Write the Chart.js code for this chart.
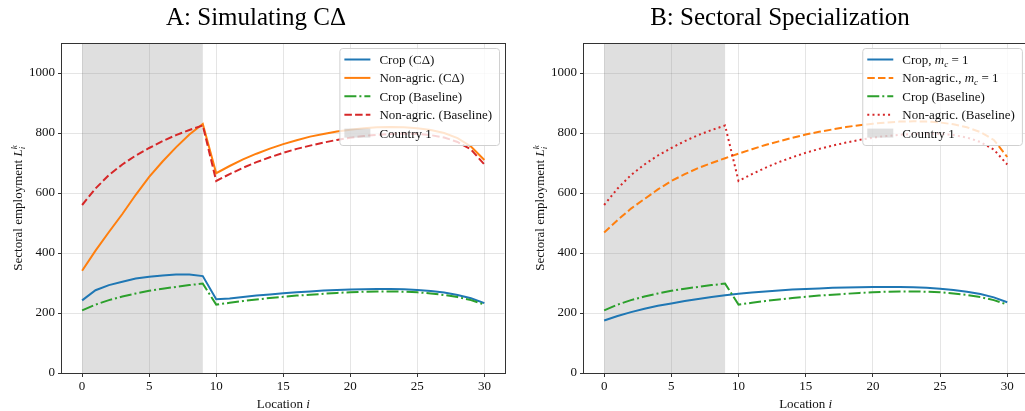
<!DOCTYPE html>
<html>
<head>
<meta charset="utf-8">
<script src="https://cdn.jsdelivr.net/npm/chart.js@4.4.0/dist/chart.umd.min.js"></script>
<style>
  html, body { margin: 0; padding: 0; background: #fff; overflow: hidden; width: 1025px; height: 411px; }
  #wrapA { position: absolute; left: 0; top: 0; }
  #wrapB { position: absolute; left: 512px; top: 0; }
</style>
</head>
<body>
<div id="wrapA"><canvas id="chartA" width="512" height="411"></canvas></div>
<div id="wrapB"><canvas id="chartB" width="520" height="411"></canvas></div>
<script>
// ---------------- Data ----------------
const locations = [0, 1, 2, 3, 4, 5, 6, 7, 8, 9, 10, 11, 12, 13, 14, 15, 16, 17, 18, 19, 20,
  21, 22, 23, 24, 25, 26, 27, 28, 29, 30];
const xTicks = [0, 5, 10, 15, 20, 25, 30];
const yTicks = [0, 200, 400, 600, 800, 1000];
const country1 = [0, 9]; // shaded span

// panel A
const cropCD = [242, 276, 293, 304, 315, 321, 325, 328, 328, 323,
  246, 248, 253, 258, 262, 266, 269, 272, 275, 277, 278, 279, 280, 280, 279, 277, 273, 268, 260, 249, 233];
const nonAgCD = [341, 408, 470, 530, 594, 654, 705, 752, 795, 830,
  666, 690, 712, 731, 748, 763, 776, 788, 797, 805, 811, 816, 819, 820, 819, 816, 810, 800, 783, 755, 710];
// baseline (same in both panels)
const cropBase = [209, 228, 243, 255, 265, 274, 281, 287, 293, 298,
  228, 234, 240, 245, 250, 254, 258, 261, 264, 267, 269, 271, 272, 272, 271, 269, 265, 260, 253, 243, 228];
const nonAgBase = [560, 615, 660, 695, 725, 750, 773, 793, 810, 825,
  640, 663, 684, 703, 719, 734, 747, 758, 768, 777, 784, 790, 794, 797, 798, 797, 793, 785, 770, 745, 695];
// panel B
const cropMc = [175, 190, 203, 214, 224, 232, 240, 247, 253, 259,
  264, 268, 272, 275, 278, 280, 282, 284, 285, 286, 287, 287, 287, 286, 284, 281, 277, 271, 263, 252, 236];
const nonAgMc = [468, 510, 548, 580, 612, 640, 663, 683, 700, 716,
  731, 746, 760, 772, 784, 795, 804, 812, 820, 826, 831, 835, 838, 839, 838, 835, 829, 819, 803, 777, 720];

const FONT = '"Liberation Serif", "DejaVu Serif", serif';
const BLUE = "#1f77b4", ORANGE = "#ff7f0e", GREEN = "#2ca02c", RED = "#d62728";
const SHADE = "rgba(128,128,128,0.25)";
const DASHED = [7.5, 3.2], DASHDOT = [12, 3, 2, 3], DOTTED = [2, 3.2];

// ---------------- tiny mathtext ($m_c$, $L_i^k$) ----------------
function richRuns(str) {
  const runs = [];
  str.split("$").forEach((seg, k) => {
    if (k % 2 === 0) { if (seg) runs.push({ t: seg, it: false, pos: 0 }); return; }
    for (let i = 0; i < seg.length; i++) {
      let c = seg[i], pos = 0;
      if (c === "_" || c === "^") { pos = c === "_" ? 1 : -1; c = seg[++i]; }
      runs.push({ t: c, it: /[a-zA-Z]/.test(c), pos });
    }
  });
  return runs;
}

function layoutRich(ctx, str, size) {
  const runs = richRuns(str);
  let cx = 0, scriptStart = 0, scriptEnd = 0, prevPos = 0;
  runs.forEach((r) => {
    const s = r.pos ? size * 0.7 : size;
    r.font = (r.it ? "italic " : "") + s + "px " + FONT;
    ctx.font = r.font;
    const w = ctx.measureText(r.t).width;
    if (r.pos && prevPos && prevPos !== r.pos) {
      r.x = scriptStart;
      cx = Math.max(scriptEnd, scriptStart + w);
    } else {
      if (r.pos) scriptStart = cx;
      r.x = cx;
      cx += w;
      scriptEnd = cx;
    }
    r.dy = r.pos === 1 ? size * 0.22 : r.pos === -1 ? -size * 0.42 : 0;
    prevPos = r.pos;
  });
  return { runs, width: cx };
}

function drawRich(ctx, str, x, y, size, align, color) {
  const lay = layoutRich(ctx, str, size);
  const x0 = align === "center" ? x - lay.width / 2 : x;
  ctx.save();
  ctx.fillStyle = color || "#111";
  ctx.textBaseline = "alphabetic";
  ctx.textAlign = "left";
  lay.runs.forEach((r) => { ctx.font = r.font; ctx.fillText(r.t, x0 + r.x, y + r.dy); });
  ctx.restore();
  return lay.width;
}

// ---------------- panel plugin ----------------
const panelPlugin = (p) => ({
  id: "panel",
  beforeDatasetsDraw(chart) {
    const { ctx, chartArea: a, scales: { x } } = chart;
    const x0 = x.getPixelForValue(country1[0]);
    const x1 = x.getPixelForValue(country1[1]);
    ctx.save();
    ctx.fillStyle = SHADE;
    ctx.fillRect(x0, a.top, x1 - x0, a.bottom - a.top);
    ctx.restore();
  },
  afterDatasetsDraw(chart) {
    const { ctx, chartArea: a } = chart;
    ctx.save();
    ctx.strokeStyle = "#333";
    ctx.lineWidth = 1;
    ctx.strokeRect(Math.round(a.left) - 0.5, Math.round(a.top) + 0.5,
      Math.round(a.right - a.left) + 1, Math.round(a.bottom - a.top));
    ctx.restore();
  },
  afterDraw(chart) {
    const { ctx, chartArea: a } = chart;
    // title
    ctx.save();
    ctx.font = "25px " + FONT;
    ctx.fillStyle = "#000";
    ctx.textAlign = "center";
    ctx.fillText(p.title, p.titleX, 25);
    ctx.restore();
    // axis labels
    drawRich(ctx, "Location $i$", (a.left + a.right) / 2, 408, 13, "center", "#111");
    ctx.save();
    ctx.translate(a.left - 44, (a.top + a.bottom) / 2);
    ctx.rotate(-Math.PI / 2);
    drawRich(ctx, "Sectoral employment $L_i^k$", 0, 4, 13, "center", "#111");
    ctx.restore();
    // legend
    const items = p.series.map((s) => ({ label: s.label, color: s.color, dash: s.dash }))
      .concat([{ label: "Country 1", patch: true }]);
    let maxW = 0;
    items.forEach((it) => { maxW = Math.max(maxW, layoutRich(ctx, it.label, 13).width); });
    const w = 40 + maxW + 7, h = 97;
    const bx = a.right - 5.5 - w, by = a.top + 5;
    ctx.save();
    ctx.beginPath();
    ctx.roundRect(bx + 0.5, by + 0.5, w, h, 3);
    ctx.fillStyle = "rgba(255,255,255,0.8)";
    ctx.fill();
    ctx.strokeStyle = "#d0d0d0";
    ctx.lineWidth = 1;
    ctx.stroke();
    items.forEach((it, i) => {
      const cy = by + 11.5 + i * 18.4;
      const hx = bx + 5;
      if (it.patch) {
        ctx.fillStyle = SHADE;
        ctx.fillRect(hx, cy - 4.5, 26, 9);
      } else {
        ctx.beginPath();
        ctx.setLineDash(it.dash || []);
        ctx.strokeStyle = it.color;
        ctx.lineWidth = 2;
        ctx.moveTo(hx, cy);
        ctx.lineTo(hx + 26, cy);
        ctx.stroke();
        ctx.setLineDash([]);
      }
      drawRich(ctx, it.label, bx + 40, cy + 4.5, 13, "left", "#111");
    });
    ctx.restore();
  },
});

// ---------------- build ----------------
function makeChart(id, p) {
  const tickFont = { family: FONT, size: 13 };
  const grid = { color: "rgba(0,0,0,0.1)", lineWidth: 1, tickColor: "#333", tickLength: 4, tickWidth: 1 };
  return new Chart(document.getElementById(id), {
    type: "line",
    data: {
      datasets: p.series.map((s, i) => ({
        label: s.label,
        data: locations.map((x, j) => ({ x, y: s.values[j] })),
        borderColor: s.color,
        borderWidth: 2,
        borderDash: s.dash || [],
        pointRadius: 0,
        tension: 0,
        fill: false,
        order: 10 - i,
      })),
    },
    options: {
      responsive: false,
      animation: false,
      layout: { padding: { left: 0, right: p.padRight, top: 43, bottom: 0 } },
      plugins: { legend: { display: false }, tooltip: { enabled: false }, title: { display: false } },
      scales: {
        x: {
          type: "linear", min: -1.5, max: 31.5,
          afterBuildTicks: (s) => { s.ticks = xTicks.map((v) => ({ value: v })); },
          afterFit: (s) => { s.height = 38; },
          grid, border: { display: false },
          ticks: { font: tickFont, color: "#111", padding: 2, maxRotation: 0, autoSkip: false, callback: (v) => String(v) },
        },
        y: {
          type: "linear", min: 0, max: 1100,
          afterBuildTicks: (s) => { s.ticks = yTicks.map((v) => ({ value: v })); },
          afterFit: (s) => { s.width = p.yWidth; },
          grid, border: { display: false },
          ticks: { font: tickFont, color: "#111", padding: 3, autoSkip: false, callback: (v) => String(v) },
        },
      },
    },
    plugins: [panelPlugin(p)],
  });
}

makeChart("chartA", {
  title: "A: Simulating C\u0394", titleX: 256, yWidth: 62, padRight: 7.5,
  series: [
    { label: "Crop (C\u0394)", values: cropCD, color: BLUE },
    { label: "Non-agric. (C\u0394)", values: nonAgCD, color: ORANGE },
    { label: "Crop (Baseline)", values: cropBase, color: GREEN, dash: DASHDOT },
    { label: "Non-agric. (Baseline)", values: nonAgBase, color: RED, dash: DASHED },
  ],
});

makeChart("chartB", {
  title: "B: Sectoral Specialization", titleX: 268, yWidth: 72, padRight: 4.6,
  series: [
    { label: "Crop, $m_c = 1$", values: cropMc, color: BLUE },
    { label: "Non-agric., $m_c = 1$", values: nonAgMc, color: ORANGE, dash: DASHED },
    { label: "Crop (Baseline)", values: cropBase, color: GREEN, dash: DASHDOT },
    { label: "Non-agric. (Baseline)", values: nonAgBase, color: RED, dash: DOTTED },
  ],
});
</script>
</body>
</html>
